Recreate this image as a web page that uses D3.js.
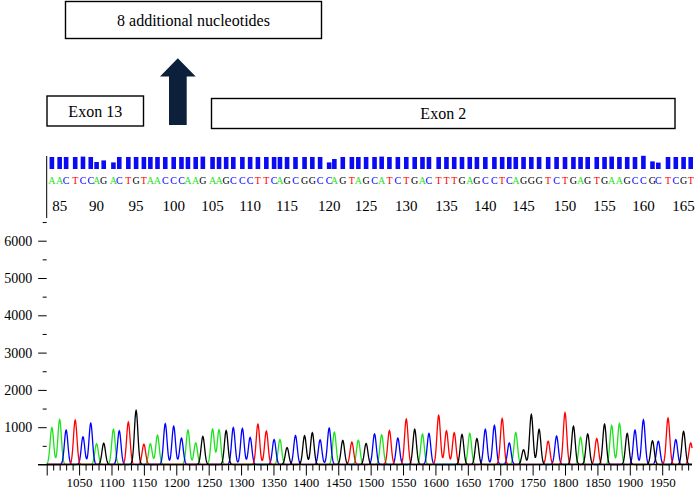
<!DOCTYPE html>
<html>
<head>
<meta charset="utf-8">
<script src="https://cdn.jsdelivr.net/npm/d3@7"></script>
<style>
  body { margin: 0; background: #fff; }
  svg { display: block; }
  svg text { font-family: "Liberation Serif", "DejaVu Serif", serif; }
</style>
</head>
<body>
<div id="chart"></div>
<script>
// base calls, read left to right
const bases = "AACTCCAGACTGTAACCCAAGAAGCCCTTCAGCGGCCAGTAGCATCTGACTTTGAGCCTCAGGGTCTGAGTGAAGCCGCTCGT".split("");

// scan position of each called peak
const peakScans = [
  1008, 1020, 1030, 1044, 1056, 1068, 1077, 1088, 1103, 1112,
  1126, 1138, 1150, 1160, 1171, 1183, 1196, 1208, 1218, 1230,
  1241, 1256, 1266, 1277, 1288, 1302, 1314, 1326, 1339, 1351,
  1360, 1371, 1384, 1398, 1410, 1422, 1436, 1444, 1457, 1471,
  1481, 1493, 1506, 1517, 1529, 1542, 1555, 1568, 1580, 1590,
  1605, 1617, 1629, 1641, 1653, 1664, 1677, 1691, 1703, 1714,
  1724, 1736, 1748, 1760, 1774, 1787, 1800, 1813, 1824, 1835,
  1849, 1861, 1872, 1884, 1896, 1908, 1921, 1935, 1944, 1959,
  1971, 1983, 1994
];

// signal intensity of each peak
const peakHeights = [
  990, 1205, 920, 1190, 740, 1105, 555, 570, 945, 900,
  1135, 1445, 545, 555, 785, 1090, 1025, 705, 920, 580,
  750, 945, 930, 910, 990, 965, 725, 1080, 895, 670,
  670, 455, 775, 770, 850, 660, 975, 865, 645, 600,
  650, 565, 820, 795, 910, 705, 1215, 940, 815, 830,
  1315, 900, 850, 805, 830, 695, 940, 1045, 1230, 580,
  855, 395, 1340, 940, 625, 760, 1385, 1025, 730, 820,
  695, 1080, 1045, 1100, 830, 920, 1195, 635, 625, 1240,
  670, 885, 580
];

// quality value per base (bar height)
const quality = [
  60, 60, 60, 60, 62, 60, 35, 43, 33, 60,
  60, 60, 60, 60, 60, 60, 60, 60, 60, 60,
  62, 60, 60, 60, 60, 60, 60, 60, 60, 60,
  60, 60, 60, 60, 60, 60, 33, 50, 60, 60,
  60, 60, 60, 62, 60, 60, 60, 60, 60, 60,
  60, 60, 60, 60, 60, 60, 60, 60, 60, 60,
  60, 60, 60, 60, 60, 60, 60, 60, 60, 60,
  60, 60, 62, 60, 60, 60, 66, 38, 32, 60,
  60, 60, 60
];

const firstBaseNumber = 84;
const baseNumberLabels = d3.range(85, 166, 5);
const scanTicksMajor = d3.range(1000, 1951, 50);
const scanTicksMinor = d3.range(1000, 1991, 10);
const yTicksMajor = [0, 1000, 2000, 3000, 4000, 5000, 6000];
const yTicksMinor = [500, 1500, 2500, 3500, 4500, 5500, 6500];

const baseColor = { A: "#1ee21e", C: "#0000ff", G: "#000000", T: "#ff0000" };
const serif = "'Liberation Serif', 'DejaVu Serif', serif";

const width = 695, height = 489;

const svg = d3.select("#chart").append("svg")
  .attr("width", width)
  .attr("height", height)
  .attr("viewBox", [0, 0, width, height])
  .attr("font-family", serif);

svg.append("rect").attr("width", width).attr("height", height).attr("fill", "#fff");

const x = d3.scaleLinear().domain([1000, 1996]).range([46.7, 692]);
const y = d3.scaleLinear().domain([0, 6000]).range([464.5, 240.7]);

// --- annotation boxes ---
function box(x0, y0, w, h, label) {
  svg.append("rect")
    .attr("x", x0).attr("y", y0).attr("width", w).attr("height", h)
    .attr("fill", "#fff").attr("stroke", "#000").attr("stroke-width", 1.4);
  svg.append("text")
    .attr("x", x0 + w / 2).attr("y", y0 + h / 2)
    .attr("dy", "0.35em")
    .attr("text-anchor", "middle")
    .attr("font-family", serif)
    .attr("font-size", 16)
    .text(label);
}
box(65.5, 1.5, 256, 37, "8 additional nucleotides");
box(47, 96, 96.5, 30, "Exon 13");
box(211.5, 98.5, 463.5, 30, "Exon 2");

// arrow
svg.append("path")
  .attr("d", d3.line()([[169, 125], [169, 76.5], [160, 76.5], [177.8, 58.3], [195.7, 76.5], [186.7, 76.5], [186.7, 125]]) + "Z")
  .attr("fill", "#0c1f3b");

// --- quality bars ---
const barBottom = 169, barScale = 0.2;
svg.append("g").selectAll("rect")
  .data(bases)
  .join("rect")
  .attr("x", (d, i) => x(peakScans[i]) - 2.3)
  .attr("width", 4.6)
  .attr("y", (d, i) => barBottom - quality[i] * barScale)
  .attr("height", (d, i) => quality[i] * barScale)
  .attr("fill", "#0a0af5");

// --- base letters ---
svg.append("g").selectAll("text")
  .data(bases)
  .join("text")
  .attr("x", (d, i) => x(peakScans[i]))
  .attr("y", 184)
  .attr("text-anchor", "middle")
  .attr("font-family", serif)
  .attr("font-size", 10)
  .attr("fill", d => baseColor[d])
  .text(d => d);

// --- base numbering ---
svg.append("g").selectAll("text")
  .data(baseNumberLabels)
  .join("text")
  .attr("x", n => x(peakScans[n - firstBaseNumber]))
  .attr("y", 210.5)
  .attr("text-anchor", "middle")
  .attr("font-family", serif)
  .attr("font-size", 15)
  .text(n => n);

// little vertical rule at the left of the sequence panel
svg.append("line")
  .attr("x1", 46.7).attr("x2", 46.7).attr("y1", 156).attr("y2", 218)
  .attr("stroke", "#000");

// --- traces ---
const sigma = 2.7;
const samples = d3.range(1000, 1996.01, 0.5);
const channels = ["A", "C", "T", "G"];
const trace = d3.line().x(d => x(d[0])).y(d => y(d[1]));

channels.forEach(ch => {
  const idx = d3.range(bases.length).filter(i => bases[i] === ch);
  const pts = samples.map(s => {
    let v = 0;
    idx.forEach(i => {
      const dx = s - peakScans[i];
      v += peakHeights[i] * Math.exp(-dx * dx / (2 * sigma * sigma));
    });
    return [s, v];
  });
  svg.append("path")
    .datum(pts)
    .attr("fill", "none")
    .attr("stroke", baseColor[ch])
    .attr("stroke-width", 1.3)
    .attr("d", trace);
});

// --- x axis ---
svg.append("line")
  .attr("x1", 38).attr("x2", 692).attr("y1", y(0)).attr("y2", y(0))
  .attr("stroke", "#000").attr("stroke-width", 1.2);

const gxMinor = svg.append("g")
  .attr("transform", `translate(0,${y(0)})`)
  .call(d3.axisBottom(x).tickValues(scanTicksMinor.filter(v => v % 50 !== 0)).tickSize(6).tickFormat(""));
gxMinor.select(".domain").remove();

const gxMajor = svg.append("g")
  .attr("transform", `translate(0,${y(0)})`)
  .call(d3.axisBottom(x).tickValues(scanTicksMajor).tickSize(11).tickPadding(2)
    .tickFormat(v => v === 1000 ? "" : v));
gxMajor.select(".domain").remove();
gxMajor.attr("font-family", serif).attr("font-size", 13);
gxMajor.selectAll("text").attr("fill", "#000");

// --- y axis ---
const gyMinor = svg.append("g")
  .attr("transform", "translate(46.7,0)")
  .call(d3.axisLeft(y).tickValues(yTicksMinor).tickSize(4).tickFormat(""));
gyMinor.select(".domain").remove();

const gyMajor = svg.append("g")
  .attr("transform", "translate(46.7,0)")
  .call(d3.axisLeft(y).tickValues(yTicksMajor).tickSize(8.5).tickPadding(6)
    .tickFormat(v => v === 0 ? "" : v));
gyMajor.select(".domain").remove();
gyMajor.attr("font-family", serif).attr("font-size", 14);
gyMajor.selectAll("text").attr("fill", "#000");
</script>
</body>
</html>
